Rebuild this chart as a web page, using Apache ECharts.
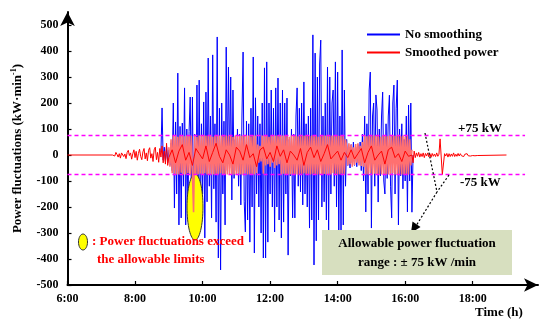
<!DOCTYPE html>
<html><head><meta charset="utf-8">
<script src="https://cdn.jsdelivr.net/npm/echarts@6/dist/echarts.min.js"></script>
<style>html,body{margin:0;padding:0;background:#fff}#c{width:550px;height:326px}</style>
</head><body><div id="c"></div>
<script>
// ---- axis ticks ----
const xTickMinutes = [360, 480, 600, 720, 840, 960, 1080];
const xTickLabels = ['6:00', '8:00', '10:00', '12:00', '14:00', '16:00', '18:00'];
const yTicks = [-500, -400, -300, -200, -100, 0, 100, 200, 300, 400, 500];
const limitValue = 75;
const limitTimes = [360, 1173];

// ---- No smoothing (kW/min), every 2 min from 8:46 ----
const blueStart = 526, blueStep = 2;
const noSmoothing = [
  10, 181, -20, 30, -25, 35, -30, 20, -40, 45,
  -60, 200, -204, 127, -150, 315, -269, 110, -242, 123,
  -120, 258, -269, 100, -200, 90, 223, -150, 223, -250,
  80, -320, 269, -200, 288, -269, 120, -150, 204, -319,
  242, -180, 373, -120, 150, -242, 385, -130, 120, -258,
  454, -396, 180, -442, 200, -150, 130, -269, 415, -60,
  338, -50, 300, -173, 250, -90, 60, -60, 100, -120,
  80, -192, 150, 396, -180, -296, 130, -250, 120, -335,
  180, -200, 377, -377, 220, -150, 150, -200, 120, -300,
  200, -396, 335, -396, 358, -335, 200, -150, 250, -200,
  180, -296, 258, -200, 296, -250, 200, -319, 250, -258,
  200, -150, 219, -385, 60, -80, 100, -242, 80, -242,
  150, 258, -120, 180, -142, 200, -192, 281, -150, 120,
  -200, 150, -281, 180, -250, 462, -423, 392, -330, 300,
  -250, 350, 442, -200, 150, -180, 200, -250, 338, -308,
  300, -150, 200, 250, -120, 358, -200, 319, -300, 150,
  -290, 404, -269, 250, -120, 60, -40, 30, -50, 40,
  -30, 50, -40, 30, -45, 40, -30, 50, -60, 80,
  -100, 150, -219, 120, -150, 250, 319, -281, 150, 200,
  -120, 231, 173, -181, 100, -80, 150, 242, -100, -150,
  120, -90, 150, 230, -120, -242, 200, 269, -150, 180,
  288, -269, 100, -80, 120, -130, 60, -100, 150, -219,
  192, -100, 200, -220, 0
];

// ---- Smoothed power ----
const smoothedFlatTimes = [360, 1140];           // flat 0 before 7:20 and after 18:10
const earlyStart = 440, earlyStep = 2;           // 7:20 - 8:58
const smoothedEarly = [
  0, 6, -4, 10, 2, -8, 5, -12, 8, 15, -6, 4, -14, 10, 18, -2, 8, -16, 5, 20,
  -10, 14, -20, 6, 22, -5, -18, 12, 25, -15, 8, -22, 18, 28, -12, 5, -25, 20, 30, -18,
  10, -28, 25, -8, 35, -30, 15, -35, 45, -40
];
const trendStart = 540, trendStep = 6;           // 9:00 - 16:12 (inner line)
const smoothedTrend = [
  -10, 20, -30, 15, 40, -20, 10, -40, 25, 5,
  -15, 35, -25, 10, 45, -5, -30, 20, 0, -35,
  30, 15, -20, 40, -10, 5, -45, 20, 30, -15,
  10, -25, 35, -5, 20, -30, 15, 0, -20, 25,
  -40, 10, 30, -10, 20, -25, 5, 40, -15, 0,
  15, -20, 10, -10, 20, -15, 5, 25, -30, 10,
  35, -20, 0, 15, -35, 20, 30, -10, 5, -25,
  15, -5, 0
];
const bandStart = 540, bandStep = 2;             // 9:00 - 16:12 (dense oscillation)
const smoothedBand = [
  30, -45, 60, -70, 75, -72, 75, -75, 70, -75,
  75, -68, 75, -75, 72, -75, 75, -70, 75, -75,
  74, -75, -220, 75, -75, 70, -75, 75, -72, 75,
  -75, 75, -70, 75, -75, 73, -75, 75, -75, 70,
  -75, 75, -74, 75, -75, 75, -70, 75, -75, 72,
  -75, 75, -75, 75, -73, 75, -75, 70, -75, 75,
  -75, 75, -72, 75, -75, 74, -75, 75, -70, 75,
  -75, 75, -75, 72, -75, 75, -75, 75, -70, 40,
  -30, 35, -25, 75, -72, 75, -40, 75, -35, 70,
  -45, 75, -30, 73, -50, 75, -40, 75, -35, 75,
  -75, 75, -72, 75, -75, 75, -75, 70, -75, 75,
  -75, 75, -74, 75, -75, 72, -75, 75, -75, 75,
  -70, 75, -75, 75, -75, 73, -75, 75, -72, 75,
  -75, 75, -75, 70, -75, 75, -75, 75, -73, 75,
  -75, 75, -75, 72, -75, 75, -70, 75, -75, 75,
  -75, 74, -75, 75, -72, 75, -75, 60,
  30, -40, 45, -35, 40, -45, 30, -38, 42, -30, 45, -40, 35, -42, 50, -45,
  75, -75, 72, -75, 75, -70, 75, -75, 75, -72,
  75, -75, 75, -75, 70, -75, 75, -74, 75, -75,
  72, -75, 75, -75, 75, -70, 75, -75, 74, -75,
  75, -75, 72, -75, 75, -75, 70, -75, 75, -75,
  60, -40, 20
];
const lateStart = 974, lateStep = 2;             // 16:14 - 18:10
const smoothedLate = [
  -30, 15, -10, 8, -5, 10, -8, 5, -6, 8,
  -10, 6, -4, 8, -7, 5, -9, 6, -5, 4,
  -6, 8, -5, 3, 62, 55, -75, -70, 5, -4,
  6, -8, 5, -6, 4, -5, 8, -6, 3, -5,
  6, -4, 5, -3, 4, -6, 3, -4, 5, -3,
  2, -4, 3, -2, 4, -3, 2, -2, 0
];

const toPairs = (start, step, vals) => vals.map((v, i) => [start + step * i, v]);
const mainRed = [[smoothedFlatTimes[0], 0]]
  .concat(toPairs(earlyStart, earlyStep, smoothedEarly))
  .concat(toPairs(trendStart, trendStep, smoothedTrend))
  .concat(toPairs(lateStart, lateStep, smoothedLate))
  .concat([[smoothedFlatTimes[1], 0]]);

const font = '"Liberation Serif", "Times New Roman", serif';
const chart = echarts.init(document.getElementById('c'), null, { renderer: 'canvas' });

chart.setOption({
  animation: false,
  backgroundColor: '#fff',
  grid: { left: 67.5, right: 12, top: 12, bottom: 41, containLabel: false },
  legend: {
    orient: 'vertical', left: 362, top: 23, itemWidth: 33, itemHeight: 2, itemGap: 5,
    icon: 'rect',
    textStyle: { fontFamily: font, fontWeight: 'bold', fontSize: 13, color: '#000' },
    data: ['No smoothing', 'Smoothed power']
  },
  xAxis: {
    type: 'value', min: 360, max: 1196, interval: 120,
    axisLine: { onZero: false, symbol: ['none', 'arrow'], symbolSize: [10, 14], lineStyle: { color: '#000', width: 2 } },
    axisTick: { inside: true, length: 4, customValues: xTickMinutes, lineStyle: { color: '#000', width: 1.2 } },
    axisLabel: {
      customValues: xTickMinutes, margin: 8,
      formatter: v => xTickLabels[xTickMinutes.indexOf(v)] || '',
      fontFamily: font, fontWeight: 'bold', fontSize: 12, color: '#000'
    },
    splitLine: { show: false }
  },
  yAxis: {
    type: 'value', min: -500, max: 550, interval: 100,
    name: '{a|Power fluctuations (kW·min}{s|-1}{a|)}',
    nameLocation: 'middle', nameGap: 42, nameRotate: 90,
    nameTextStyle: {
      rich: {
        a: { fontFamily: font, fontWeight: 'bold', fontSize: 13, color: '#000', lineHeight: 16 },
        s: { fontFamily: font, fontWeight: 'bold', fontSize: 8, color: '#000', verticalAlign: 'top', lineHeight: 16, padding: [0, 0, 6, 0] }
      }
    },
    axisLine: { onZero: false, symbol: ['none', 'arrow'], symbolSize: [11, 14], lineStyle: { color: '#000', width: 2 } },
    axisTick: { inside: true, length: 4, customValues: yTicks, lineStyle: { color: '#000', width: 1.2 } },
    axisLabel: { customValues: yTicks, margin: 9, fontFamily: font, fontWeight: 'bold', fontSize: 12, color: '#000' },
    splitLine: { show: false }
  },
  series: [
    {
      name: 'No smoothing', type: 'line', symbol: 'none', z: 1,
      lineStyle: { color: '#0000ff', width: 1 }, itemStyle: { color: '#0000ff' },
      data: toPairs(blueStart, blueStep, noSmoothing)
    },
    {
      name: 'Smoothed power', type: 'line', symbol: 'none', z: 4,
      lineStyle: { color: '#ff0000', width: 1 }, itemStyle: { color: '#ff0000' },
      data: mainRed
    },
    {
      name: 'Smoothed power', type: 'line', symbol: 'none', z: 3,
      lineStyle: { color: '#ff7070', width: 1.6 }, itemStyle: { color: '#ff0000' },
      data: toPairs(bandStart, bandStep, smoothedBand)
    },
    {
      name: 'upper limit', type: 'line', symbol: 'none', z: 5, silent: true,
      lineStyle: { color: '#ff00ff', width: 1.5, type: [4, 3] },
      data: limitTimes.map(t => [t, limitValue])
    },
    {
      name: 'lower limit', type: 'line', symbol: 'none', z: 5, silent: true,
      lineStyle: { color: '#ff00ff', width: 1.5, type: [4, 3] },
      data: limitTimes.map(t => [t, -limitValue])
    }
  ],
  graphic: [
    { type: 'ellipse', z: 2, shape: { cx: 195, cy: 207, rx: 8, ry: 33 }, style: { fill: '#ffff00', stroke: '#333', lineWidth: 1 } },
    { type: 'ellipse', z: 10, shape: { cx: 83, cy: 242, rx: 4.5, ry: 8 }, style: { fill: '#ffff00', stroke: '#333', lineWidth: 1 } },
    { type: 'text', z: 10, style: { text: ': Power fluctuations exceed', x: 92, y: 242, fill: '#ff0000', font: 'bold 13px ' + font, align: 'left', verticalAlign: 'middle' } },
    { type: 'text', z: 10, style: { text: 'the allowable limits', x: 97, y: 260, fill: '#ff0000', font: 'bold 13px ' + font, align: 'left', verticalAlign: 'middle' } },
    { type: 'text', z: 10, style: { text: '+75 kW', x: 458, y: 129, fill: '#000', font: 'bold 13px ' + font, align: 'left', verticalAlign: 'middle' } },
    { type: 'text', z: 10, style: { text: '-75 kW', x: 460, y: 183, fill: '#000', font: 'bold 13px ' + font, align: 'left', verticalAlign: 'middle' } },
    { type: 'polyline', z: 10, shape: { points: [[425, 133], [437, 192]] }, style: { stroke: '#000', lineWidth: 1.2, lineDash: [2, 2], fill: null } },
    { type: 'polyline', z: 10, shape: { points: [[449, 175], [437, 192]] }, style: { stroke: '#000', lineWidth: 1.2, lineDash: [2, 2], fill: null } },
    { type: 'polyline', z: 10, shape: { points: [[437, 192], [416, 226]] }, style: { stroke: '#000', lineWidth: 1.2, lineDash: [2, 2], fill: null } },
    { type: 'polygon', z: 10, shape: { points: [[411, 233], [420.5, 227], [412.5, 221.5]] }, style: { fill: '#000' } },
    { type: 'rect', z: 10, shape: { x: 322, y: 230, width: 190, height: 45 }, style: { fill: '#d7dfbf' } },
    { type: 'text', z: 11, style: { text: 'Allowable power fluctuation', x: 417, y: 244, fill: '#000', font: 'bold 13px ' + font, align: 'center', verticalAlign: 'middle' } },
    { type: 'text', z: 11, style: { text: 'range : ± 75 kW /min', x: 417, y: 263, fill: '#000', font: 'bold 13px ' + font, align: 'center', verticalAlign: 'middle' } },
    { type: 'text', z: 10, style: { text: 'Time (h)', x: 475, y: 313, fill: '#000', font: 'bold 13px ' + font, align: 'left', verticalAlign: 'middle' } }
  ]
});
</script></body></html>
